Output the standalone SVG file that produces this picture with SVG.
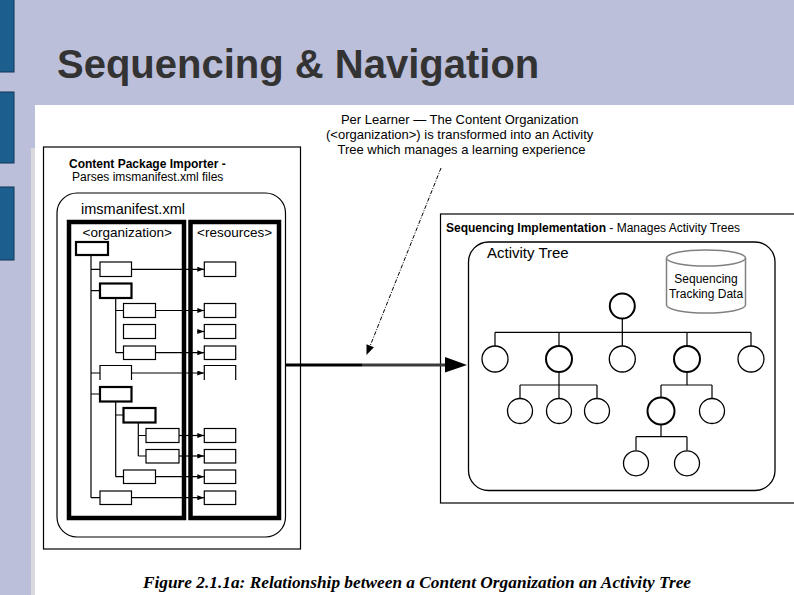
<svg xmlns="http://www.w3.org/2000/svg" width="794" height="595" viewBox="0 0 794 595">
<defs>
<style>
.bar{fill:#1c5f8f;stroke:#0e3555;stroke-width:1}
.thin{fill:#fff;stroke:#000;stroke-width:1.2}
.thick{fill:#fff;stroke:#000;stroke-width:2.2}
.col{fill:none;stroke:#000;stroke-width:4.5}
.ln{fill:none;stroke:#000;stroke-width:1.2}
.arr{fill:none;stroke:#000;stroke-width:1.2;marker-end:url(#ah)}
.c1{fill:#fff;stroke:#000;stroke-width:1.3}
.c2{fill:#fff;stroke:#000;stroke-width:2}
.sans{font-family:"Liberation Sans",Arial,sans-serif;fill:#000}
</style>
<marker id="ah" viewBox="0 0 8 6" refX="8" refY="3" markerWidth="7" markerHeight="5" markerUnits="userSpaceOnUse" orient="auto">
<path d="M0,0 L8,3 L0,6 z" fill="#000"/>
</marker>
</defs>

<!-- background -->
<rect x="0" y="0" width="794" height="595" fill="#bbbfda"/>
<rect class="bar" x="-1" y="-1" width="15" height="73"/>
<rect class="bar" x="-1" y="92" width="15" height="71"/>
<rect class="bar" x="-1" y="187" width="15" height="73"/>
<text x="57" y="78" font-family="'Liberation Sans',Arial,sans-serif" font-weight="bold" font-size="40" fill="#333">Sequencing &amp; Navigation</text>
<rect x="35" y="105" width="759" height="490" fill="#fff"/>
<rect x="31" y="148" width="4" height="447" fill="#d9d9df"/>

<!-- Left: Content Package Importer -->
<g id="importer">
<rect x="43.5" y="147" width="257" height="402" fill="#fff" stroke="#000" stroke-width="1.2"/>
<text class="sans" x="69" y="168" font-size="12" font-weight="bold">Content Package Importer -</text>
<text class="sans" x="72" y="181" font-size="12">Parses imsmanifest.xml files</text>
</g>
<g id="imsmanifest">
<rect x="57" y="193" width="228.5" height="344" rx="20" ry="20" fill="#fff" stroke="#000" stroke-width="1.2"/>
<text class="sans" x="81" y="214" font-size="14.5">imsmanifest.xml</text>
</g>
<g id="organization">
<rect class="col" x="69" y="222" width="115" height="296"/>
<text class="sans" x="82.5" y="236.5" font-size="13.5">&lt;organization&gt;</text>
</g>
<g id="resources">
<rect class="col" x="190.5" y="222" width="88.5" height="296"/>
<text class="sans" x="197" y="236.5" font-size="13.5">&lt;resources&gt;</text>
</g>

<!-- organization items -->
<g id="org-items">
<rect class="thick" x="76" y="242" width="32" height="13"/>
<rect class="thin" x="100" y="262" width="31.5" height="14.5"/>
<rect class="thick" x="100" y="283.5" width="31.5" height="14.5"/>
<rect class="thin" x="123.5" y="303.5" width="32" height="14"/>
<rect class="thin" x="123.5" y="324.5" width="32" height="14"/>
<rect class="thin" x="123.5" y="346" width="32" height="13.5"/>
<path class="ln" d="M100,380 V365.5 H131.5 V380"/>
<rect class="thick" x="100" y="387" width="31.5" height="14.5"/>
<rect class="thick" x="123.5" y="408" width="32" height="14.5"/>
<rect class="thin" x="146" y="428.5" width="33" height="14"/>
<rect class="thin" x="146" y="449.5" width="33" height="13.5"/>
<rect class="thin" x="123.5" y="470" width="32" height="13.5"/>
<rect class="thin" x="100" y="491" width="31.5" height="13.5"/>
</g>

<!-- resource items -->
<g id="res-items">
<rect class="thin" x="204.3" y="262" width="31.4" height="14.5"/>
<rect class="thin" x="204.3" y="303.5" width="31.4" height="14"/>
<rect class="thin" x="204.3" y="324.5" width="31.4" height="14"/>
<rect class="thin" x="204.3" y="346" width="31.4" height="13.5"/>
<path class="ln" d="M204.3,380 V365.5 H235.7 V380"/>
<rect class="thin" x="204.3" y="428.5" width="31.4" height="14"/>
<rect class="thin" x="204.3" y="449.5" width="31.4" height="13.5"/>
<rect class="thin" x="204.3" y="470" width="31.4" height="13.5"/>
<rect class="thin" x="204.3" y="491" width="31.4" height="13.5"/>
</g>

<!-- Right: Sequencing Implementation -->
<g id="sequencing-impl">
<rect x="440.5" y="214" width="360" height="289" fill="#fff" stroke="#000" stroke-width="1.2"/>
<text class="sans" x="446" y="231.5" font-size="12"><tspan font-weight="bold">Sequencing Implementation</tspan> - Manages Activity Trees</text>
</g>
<g id="activity-tree">
<rect x="468.5" y="242" width="306.5" height="248.5" rx="20" ry="20" fill="#fff" stroke="#000" stroke-width="1.3"/>
<text class="sans" x="487" y="257.5" font-size="15">Activity Tree</text>
</g>
<g id="tracking-data">
<path d="M666.5,258 V305 A39.5,8 0 0 0 745.5,305 V258" fill="#fff" stroke="#808080" stroke-width="1.5"/>
<ellipse cx="706" cy="258" rx="39.5" ry="8" fill="#fff" stroke="#808080" stroke-width="1.5"/>
<text class="sans" x="706" y="283.3" font-size="12" text-anchor="middle">Sequencing</text>
<text class="sans" x="706" y="297.7" font-size="12" text-anchor="middle">Tracking Data</text>
</g>

<!-- connectors -->
<g id="connectors">
<!-- org tree lines -->
<path class="ln" d="M91,255 V497.7 M91,269.3 H100 M91,290.7 H100 M91,373 H100 M91,394 H100 M91,497.7 H100"/>
<path class="ln" d="M115.7,298 V352.7 M115.7,310.5 H123.5 M115.7,352.7 H123.5"/>
<path class="ln" d="M115.7,401.5 V476.7 M115.7,415 H123.5 M115.7,476.7 H123.5"/>
<path class="ln" d="M138.3,422.5 V456 M138.3,435.5 H146 M138.3,456 H146"/>
<!-- org to resource arrows -->
<line class="arr" x1="131.5" y1="269.3" x2="204" y2="269.3"/>
<line class="arr" x1="155.5" y1="310.5" x2="204" y2="310.5"/>
<line class="arr" x1="197" y1="331.5" x2="204" y2="331.5"/>
<line class="arr" x1="155.5" y1="352.7" x2="204" y2="352.7"/>
<line class="arr" x1="131.5" y1="373" x2="204" y2="373"/>
<line class="arr" x1="179" y1="435.5" x2="204" y2="435.5"/>
<line class="arr" x1="179" y1="456" x2="204" y2="456"/>
<line class="arr" x1="155.5" y1="476.7" x2="204" y2="476.7"/>
<line class="arr" x1="131.5" y1="497.7" x2="204" y2="497.7"/>
<!-- main arrow -->
<line x1="286" y1="365" x2="362" y2="365" stroke="#000" stroke-width="3"/>
<line x1="362" y1="365" x2="446" y2="365" stroke="#3a3a3a" stroke-width="3"/>
<polygon points="445,357 467,365 445,372.5" fill="#000"/>
<!-- dashed callout arrow -->
<line x1="441" y1="168" x2="370.2" y2="345.7" stroke="#000" stroke-width="1" stroke-dasharray="4 1.5 1 1.5"/>
<polygon points="366.5,355 373.9,347.2 366.5,344.2" fill="#000"/>
<!-- activity tree lines -->
<path class="ln" d="M622.3,318.5 V332.3 M495,332.3 H751 M495,332.3 V346 M559,332.3 V346 M622.3,332.3 V346 M687,332.3 V346 M751,332.3 V346"/>
<path class="ln" d="M559,372 V385 M520,385 H597 M520,385 V398.5 M559,385 V398.5 M597,385 V398.5"/>
<path class="ln" d="M687,372 V385 M661,385 H712 M661,385 V397.5 M712,385 V398.5"/>
<path class="ln" d="M661,424.5 V436.7 M636,436.7 H687 M636,436.7 V450.5 M687,436.7 V450.5"/>
</g>

<!-- activity nodes -->
<g id="at-root"><circle class="c2" cx="622.3" cy="306" r="12.5"/></g>
<g id="at-1a"><circle class="c1" cx="495" cy="359" r="13"/></g>
<g id="at-1b"><circle class="c2" cx="559" cy="359" r="13"/></g>
<g id="at-1c"><circle class="c1" cx="622.3" cy="359" r="13"/></g>
<g id="at-1d"><circle class="c2" cx="687" cy="359" r="13"/></g>
<g id="at-1e"><circle class="c1" cx="751" cy="359" r="13"/></g>
<g id="at-2a"><circle class="c1" cx="520" cy="411" r="12.5"/></g>
<g id="at-2b"><circle class="c1" cx="559" cy="411" r="12.5"/></g>
<g id="at-2c"><circle class="c1" cx="597" cy="411" r="12.5"/></g>
<g id="at-2d"><circle class="c2" cx="661" cy="411" r="13.5"/></g>
<g id="at-2e"><circle class="c1" cx="712" cy="411" r="12.5"/></g>
<g id="at-3a"><circle class="c1" cx="636" cy="463.3" r="12.5"/></g>
<g id="at-3b"><circle class="c1" cx="687" cy="463.3" r="12.5"/></g>

<!-- callout text -->
<g id="callout">
<text class="sans" font-size="13" text-anchor="middle">
<tspan x="461.5" y="124">Per Learner — The Content Organization</tspan>
<tspan x="461.5" y="139">(&lt;organization&gt;) is transformed into an Activity</tspan>
<tspan x="461.5" y="154">Tree which manages a learning experience</tspan>
</text>
</g>

<!-- caption -->
<text x="143" y="588" font-family="'Liberation Serif','Times New Roman',serif" font-weight="bold" font-style="italic" font-size="16" textLength="548" lengthAdjust="spacingAndGlyphs" fill="#000">Figure 2.1.1a: Relationship between a Content Organization an Activity Tree</text>
</svg>
